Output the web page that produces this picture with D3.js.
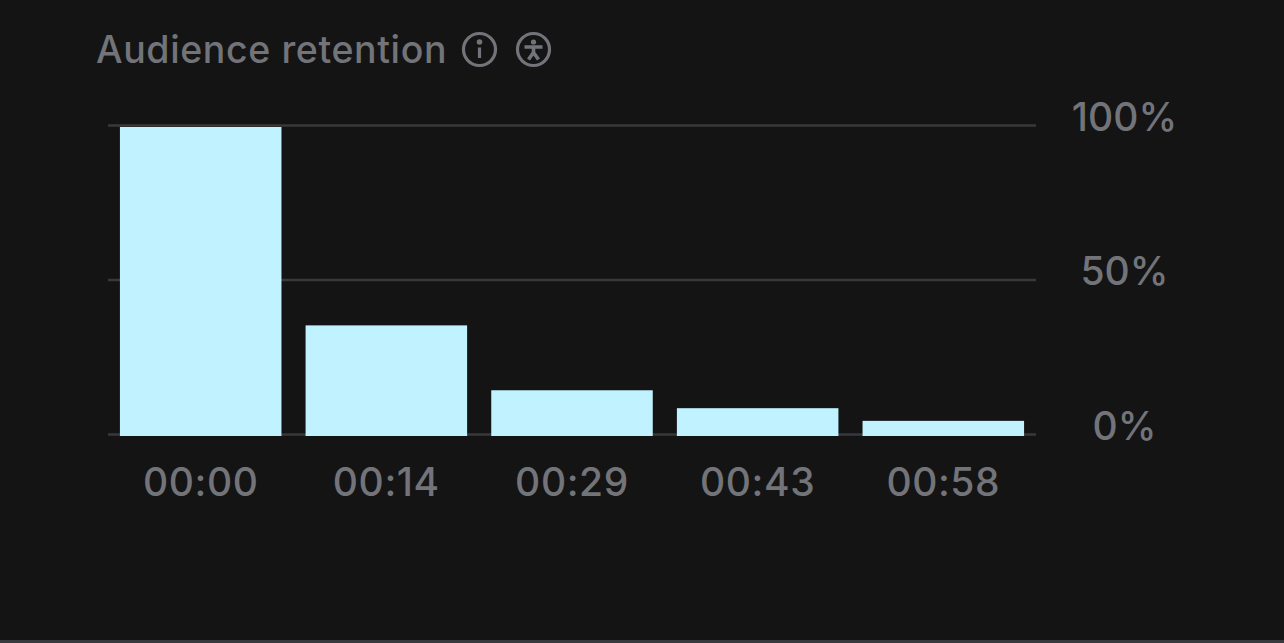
<!DOCTYPE html>
<html><head><meta charset="utf-8">
<script src="https://cdn.jsdelivr.net/npm/d3@7"></script>
<style>html,body{margin:0;padding:0;background:#141414;overflow:hidden}text{font-family:Inter,sans-serif}</style>
</head><body><svg id="c" width="1284" height="643"></svg>
<script>
const categories=["00:00","00:14","00:29","00:43","00:58"];
const values=[100,35.8,14.8,9,4.9];
const yTicks=[0,50,100];
const title="Audience retention";
const grey="#72747a";
const svg=d3.select("#c");
svg.append("rect").attr("width",1284).attr("height",643).attr("fill","#141414");
const x=d3.scaleBand().domain(categories).range([112.5,1031.5]).paddingInner(0.13).paddingOuter(0.04);
const y=d3.scaleLinear().domain([0,100]).range([434.5,125.5]);
const barOffset=1.5;
svg.append("g").selectAll("line").data(yTicks).join("line")
 .attr("x1",108).attr("x2",1036).attr("y1",d=>y(d)).attr("y2",d=>y(d))
 .attr("stroke","#38393d").attr("stroke-width",2.6);
svg.append("g").selectAll("rect").data(values).join("rect")
 .attr("x",(d,i)=>x(categories[i])).attr("width",x.bandwidth())
 .attr("y",d=>y(d)+barOffset).attr("height",d=>y(0)-y(d)).attr("fill","#c0f3ff");
svg.append("g").selectAll("text").data(categories).join("text")
 .attr("x",d=>x(d)+x.bandwidth()/2).attr("y",496).attr("text-anchor","middle")
 .attr("font-size",39).attr("font-weight",500).attr("letter-spacing",0.6).attr("fill",grey).text(d=>d);
svg.append("g").selectAll("text").data(yTicks).join("text")
 .attr("x",1124.5).attr("y",d=>y(d)+5).attr("text-anchor","middle")
 .attr("font-size",39).attr("font-weight",500).attr("letter-spacing",0).attr("fill",grey).text(d=>d+"%");
svg.append("text").attr("x",96).attr("y",63).attr("font-size",37.5).attr("font-weight",500).attr("letter-spacing",0.6).attr("fill",grey).text(title);
const g1=svg.append("g").attr("transform","translate(479.5,49.5)").attr("fill","none").attr("stroke",grey).attr("stroke-width",3.2);
g1.append("circle").attr("r",16);
g1.append("line").attr("x1",0).attr("x2",0).attr("y1",-2).attr("y2",8.5);
g1.append("circle").attr("cy",-7.5).attr("r",1.2).attr("fill",grey);
const g2=svg.append("g").attr("transform","translate(533.5,49.5)").attr("fill","none").attr("stroke",grey).attr("stroke-width",3.2);
g2.append("circle").attr("r",16);
g2.append("circle").attr("cy",-7.5).attr("r",1.6).attr("fill",grey).attr("stroke-width",2);
g2.append("path").attr("d","M-9,-2.5L9,-2.5M0,-2L0,3M0,3L-5,10M0,3L5,10").attr("stroke-width",3.6);
svg.append("rect").attr("y",640).attr("width",1284).attr("height",3).attr("fill","#38393d");
</script></body></html>
